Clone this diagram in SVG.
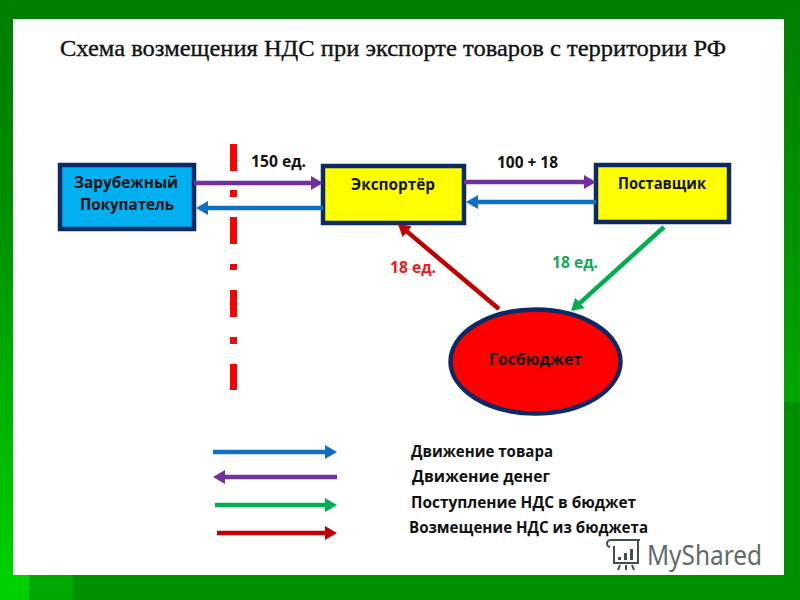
<svg xmlns="http://www.w3.org/2000/svg" width="800" height="600" viewBox="0 0 800 600">
<style>
.lbl{font-family:"Open Sans","Liberation Sans",sans-serif;font-weight:700;font-size:15.500px;fill:#111}
.title{font-family:"Liberation Serif",serif;font-size:24px;fill:#111;stroke:#111;stroke-width:.35}
.node{stroke:#0b2a66;stroke-width:4.500}
.ln{fill:none;stroke-width:4.500}
.dash{fill:#f00}
.logo{fill:none;stroke:#3f4f4b;stroke-width:2}
</style>
<defs>
<linearGradient id="gl" x1="0" y1="0" x2="0" y2="1"><stop offset="0" stop-color="#007f00"/><stop offset="0.3" stop-color="#008a00"/><stop offset="1" stop-color="#00d400"/></linearGradient>
<linearGradient id="gr" x1="0" y1="0" x2="0" y2="1"><stop offset="0" stop-color="#007f00"/><stop offset="0.4" stop-color="#008c00"/><stop offset="1" stop-color="#00a600"/></linearGradient>
<marker id="mP" markerUnits="userSpaceOnUse" markerWidth="14" markerHeight="16" refX="2" refY="7" orient="auto"><path d="M0 0L12 7L0 14Z" fill="#7030a0"/></marker>
<marker id="mB" markerUnits="userSpaceOnUse" markerWidth="14" markerHeight="16" refX="2" refY="7" orient="auto"><path d="M0 0L12 7L0 14Z" fill="#0f6fc0"/></marker>
<marker id="mG" markerUnits="userSpaceOnUse" markerWidth="14" markerHeight="16" refX="2" refY="7" orient="auto"><path d="M0 0L12 7L0 14Z" fill="#00b050"/></marker>
<marker id="mR" markerUnits="userSpaceOnUse" markerWidth="14" markerHeight="16" refX="2" refY="7" orient="auto"><path d="M0 0L12 7L0 14Z" fill="#c00000"/></marker>
</defs>
<g id="background">
<rect width="800" height="600" fill="#008000"/>
<rect x="0" y="0" width="13" height="600" fill="url(#gl)"/>
<rect x="784" y="0" width="16" height="402" fill="url(#gr)"/>
<rect x="784" y="402" width="16" height="198" fill="#008f00"/>
<rect x="0" y="575" width="29" height="25" fill="#00cf00"/>
<rect x="29" y="575" width="44" height="25" fill="#00a800"/>
<rect x="73" y="575" width="727" height="25" fill="#009000"/>
<rect x="13" y="19" width="771" height="556" fill="#fff"/>
</g>
<text class="title" x="60" y="56" textLength="666" lengthAdjust="spacingAndGlyphs">Схема возмещения НДС при экспорте товаров  с территории  РФ</text>
<g id="border-line">
<rect class="dash" x="230" y="144" width="7" height="27"/>
<rect class="dash" x="230" y="190" width="7" height="7"/>
<rect class="dash" x="230" y="217" width="7" height="27"/>
<rect class="dash" x="230" y="264" width="7" height="6"/>
<rect class="dash" x="230" y="290" width="7" height="27"/>
<rect class="dash" x="230" y="337" width="7" height="7"/>
<rect class="dash" x="230" y="364" width="7" height="26"/>
</g>
<g id="node-buyer">
<rect class="node" x="60" y="165" width="134" height="64" fill="#00b0f0"/>
<text class="lbl" x="74" y="188" textLength="104" lengthAdjust="spacingAndGlyphs">Зарубежный</text>
<text class="lbl" x="80" y="210" textLength="94" lengthAdjust="spacingAndGlyphs">Покупатель</text>
</g>
<g id="node-exporter">
<rect class="node" x="323" y="166" width="141" height="57" fill="#ff0"/>
<text class="lbl" x="351" y="190" textLength="84" lengthAdjust="spacingAndGlyphs">Экспортёр</text>
</g>
<g id="node-supplier">
<rect class="node" x="596" y="165" width="133" height="57" fill="#ff0"/>
<text class="lbl" x="618" y="189" textLength="88" lengthAdjust="spacingAndGlyphs">Поставщик</text>
</g>
<g id="node-budget">
<ellipse class="node" cx="535.500" cy="361.500" rx="85" ry="52" fill="#f00"/>
<text class="lbl" x="489" y="365" textLength="93" lengthAdjust="spacingAndGlyphs">Госбюджет</text>
</g>
<g id="connectors">
<line class="ln" x1="194" y1="183" x2="313" y2="183" stroke="#7030a0" marker-end="url(#mP)"/>
<line class="ln" x1="323" y1="208" x2="206" y2="208" stroke="#0f6fc0" marker-end="url(#mB)"/>
<line class="ln" x1="464" y1="182" x2="586" y2="182" stroke="#7030a0" marker-end="url(#mP)"/>
<line class="ln" x1="596" y1="202" x2="476" y2="202" stroke="#0f6fc0" marker-end="url(#mB)"/>
<line class="ln" x1="664" y1="227" x2="578.400" y2="304.300" stroke="#00b050" marker-end="url(#mG)"/>
<line class="ln" x1="499" y1="309" x2="405.600" y2="230.400" stroke="#c00000" marker-end="url(#mR)"/>
</g>
<text class="lbl" x="251" y="167" textLength="55" lengthAdjust="spacingAndGlyphs">150 ед.</text>
<text class="lbl" x="497" y="168" textLength="61" lengthAdjust="spacingAndGlyphs">100 + 18</text>
<text class="lbl" x="390" y="273" textLength="46" lengthAdjust="spacingAndGlyphs" style="fill:#f01a1a">18 ед.</text>
<text class="lbl" x="552" y="268" textLength="46" lengthAdjust="spacingAndGlyphs" style="fill:#14a85a">18 ед.</text>
<g id="legend">
<line class="ln" x1="213" y1="452" x2="327" y2="452" stroke="#0f6fc0" marker-end="url(#mB)"/>
<line class="ln" x1="337" y1="477" x2="223" y2="477" stroke="#7030a0" marker-end="url(#mP)"/>
<line class="ln" x1="215" y1="505" x2="327" y2="505" stroke="#00b050" marker-end="url(#mG)"/>
<line class="ln" x1="217" y1="533" x2="327" y2="533" stroke="#c00000" marker-end="url(#mR)"/>
<text class="lbl" x="411" y="457" textLength="142" lengthAdjust="spacingAndGlyphs">Движение товара</text>
<text class="lbl" x="412" y="482" textLength="138" lengthAdjust="spacingAndGlyphs">Движение  денег</text>
<text class="lbl" x="411" y="508" textLength="225" lengthAdjust="spacingAndGlyphs">Поступление НДС  в бюджет</text>
<text class="lbl" x="409" y="533" textLength="239" lengthAdjust="spacingAndGlyphs">Возмещение НДС из бюджета</text>
</g>
<g id="watermark">
<path class="logo" d="M611 540H640M614 546V563H638V540M611 540a3 3 0 0 0 -1 7"/>
<path d="M618 557h3v3h-3zM624 553h3v7h-3zM630 549h3v11h-3z" fill="#3f4f4b"/>
<path class="logo" d="M620 565L618 570M626 565V570M632 565L634 570"/>
<text x="647" y="565" font-family="'Noto Sans','Open Sans',sans-serif" font-size="27" fill="#5f6b69" textLength="115" lengthAdjust="spacingAndGlyphs">MyShared</text>
</g>
</svg>
